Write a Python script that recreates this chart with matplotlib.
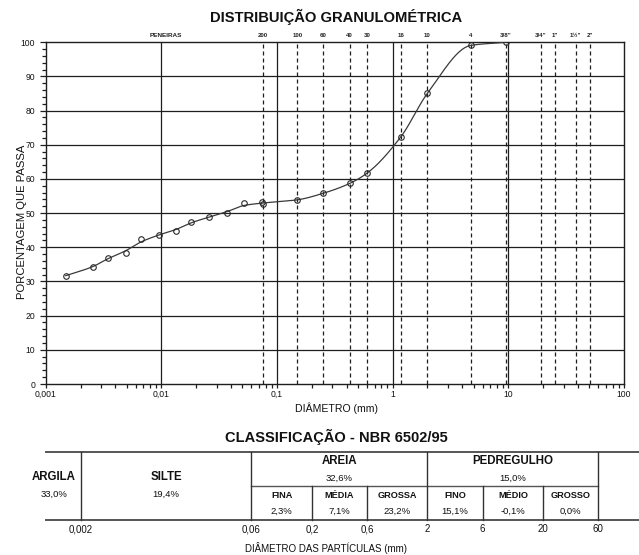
import numpy as np
import matplotlib
matplotlib.use('Agg')
import matplotlib.pyplot as plt
from matplotlib.ticker import FixedLocator, FixedFormatter, NullFormatter, MultipleLocator
from matplotlib.transforms import blended_transform_factory

plt.rcParams['font.family'] = ['Liberation Sans', 'DejaVu Sans']

# ---------------- data ----------------
# sedimentation (hydrometer) points
sed_diam = [0.00149, 0.00254, 0.00345, 0.0049, 0.00672, 0.0095, 0.01337,
            0.01815, 0.0256, 0.0371, 0.0523, 0.0747]
sed_pass = [31.7, 34.3, 37.0, 38.3, 42.3, 43.6, 44.9, 47.5, 48.8, 50.1, 52.9, 53.2]

# sieves
sieve_names = ['200', '100', '60', '40', '30', '16', '10', '4', '3/8"',
               '3/4"', '1"', '1½"', '2"']
sieve_open = [0.075, 0.15, 0.25, 0.425, 0.6, 1.18, 2.0, 4.75, 9.5,
              19.0, 25.4, 38.1, 50.8]
sieve_pass = [52.7, 53.9, 55.8, 58.7, 61.7, 72.4, 85.1, 99.1, 100.0]

x_ticks = [0.001, 0.01, 0.1, 1, 10, 100]
x_ticklabels = ['0,001', '0,01', '0,1', '1', '10', '100']

# classification NBR 6502/95
class_bounds = [0.002, 0.06, 0.2, 0.6, 2, 6, 20, 60]
bound_labels = ['0,002', '0,06', '0,2', '0,6', '2', '6', '20', '60']
main_names = ['ARGILA', 'SILTE', 'AREIA', 'PEDREGULHO']
main_values = ['33,0%', '19,4%', '32,6%', '15,0%']
sub_names = ['FINA', 'MÉDIA', 'GROSSA', 'FINO', 'MÉDIO', 'GROSSO']
sub_values = ['2,3%', '7,1%', '23,2%', '15,1%', '-0,1%', '0,0%']


# ---------------- curve (smoothed PCHIP in log-x) ----------------
def pchip(x, y, xn):
    x = np.asarray(x, float); y = np.asarray(y, float)
    h = np.diff(x); d = np.diff(y) / h
    n = len(x)
    m = np.zeros(n)
    for k in range(1, n - 1):
        if d[k - 1] * d[k] <= 0:
            m[k] = 0.0
        else:
            w1 = 2 * h[k] + h[k - 1]
            w2 = h[k] + 2 * h[k - 1]
            m[k] = (w1 + w2) / (w1 / d[k - 1] + w2 / d[k])
    m[0] = d[0]
    m[-1] = d[-1]
    idx = np.clip(np.searchsorted(x, xn) - 1, 0, n - 2)
    t = (xn - x[idx]) / h[idx]
    h00 = 2 * t**3 - 3 * t**2 + 1
    h10 = t**3 - 2 * t**2 + t
    h01 = -2 * t**3 + 3 * t**2
    h11 = t**3 - t**2
    return (h00 * y[idx] + h10 * h[idx] * m[idx] +
            h01 * y[idx + 1] + h11 * h[idx] * m[idx + 1])


sy = np.array(sed_pass, float)
sm = sy.copy()
for i in range(1, len(sy) - 1):
    sm[i] = 0.25 * sy[i - 1] + 0.5 * sy[i] + 0.25 * sy[i + 1]
cx = list(np.log10(sed_diam)) + list(np.log10(sieve_open[:len(sieve_pass)]))
cy = list(sm) + list(sieve_pass)
order = np.argsort(cx)
cx = np.array(cx)[order]; cy = np.array(cy)[order]
# merge near-duplicate diameters
mx, my = [cx[0]], [cy[0]]
for a, b in zip(cx[1:], cy[1:]):
    if a - mx[-1] < 0.01:
        mx[-1] = (mx[-1] + a) / 2; my[-1] = (my[-1] + b) / 2
    else:
        mx.append(a); my.append(b)
xn = np.linspace(mx[0], mx[-1], 600)
yn = pchip(mx, my, xn)

# ---------------- figure ----------------
W_PX, H_PX = 639, 555
fig = plt.figure(figsize=(W_PX / 100, H_PX / 100), dpi=100)
L = 45.7 / W_PX
W = 578.3 / W_PX
ax_top_px, ax_bot_px = 42.3, 384.0
ax = fig.add_axes([L, 1 - ax_bot_px / H_PX, W, (ax_bot_px - ax_top_px) / H_PX])
ax.set_xscale('log')
ax.set_xlim(0.001, 100)
ax.set_ylim(0, 100)

gcol = '#1e1e1e'
for yv in range(10, 100, 10):
    ax.axhline(yv, color=gcol, lw=0.9, zorder=1)
for xv in x_ticks[1:-1]:
    ax.axvline(xv, color=gcol, lw=0.9, zorder=1)
for xv in sieve_open:
    ax.axvline(xv, color=gcol, lw=0.9, ls=(0, (3.2, 2.4)), zorder=1)

ax.plot(10 ** xn, yn, color='#3a3a3a', lw=0.9, zorder=3)
ax.plot(sed_diam, sed_pass, 'o', ms=4.0, mfc='none', mec='#2a2a2a', mew=0.8, zorder=4)
ax.plot(sieve_open[:len(sieve_pass)], sieve_pass, 'o', ms=4.0, mfc='none',
        mec='#2a2a2a', mew=0.8, zorder=4)

for s in ax.spines.values():
    s.set_color(gcol); s.set_linewidth(1.0)

ax.xaxis.set_major_locator(FixedLocator(x_ticks))
ax.xaxis.set_major_formatter(FixedFormatter(x_ticklabels))
minors = [m * 10.0 ** e for e in range(-3, 2) for m in range(2, 10)]
ax.xaxis.set_minor_locator(FixedLocator(minors))
ax.xaxis.set_minor_formatter(NullFormatter())
ax.yaxis.set_major_locator(MultipleLocator(10))
ax.yaxis.set_minor_locator(MultipleLocator(2))
ax.tick_params(axis='both', which='both', direction='out', colors=gcol,
               labelsize=6.2, labelcolor='#111111', width=0.9)
ax.tick_params(axis='x', which='major', length=3.2, pad=1.0)
ax.tick_params(axis='x', which='minor', length=3.0)
ax.tick_params(axis='y', which='major', length=4.3, pad=3.2)
ax.tick_params(axis='y', which='minor', length=3.1)

# sieve labels on top
trans = blended_transform_factory(ax.transData, ax.transAxes)
for nm, xv in zip(sieve_names, sieve_open):
    ax.annotate(nm, xy=(xv, 1.0), xycoords=trans, xytext=(0, 4.9),
                textcoords='offset points', ha='center', va='center',
                fontsize=4.4, fontweight='bold', color='#222222')
ax.annotate('PENEIRAS', xy=(0.0109, 1.0), xycoords=trans, xytext=(0, 4.9),
            textcoords='offset points', ha='center', va='center',
            fontsize=4.6, fontweight='bold', color='#222222')

fig.text(336 / W_PX, 1 - 17 / H_PX, 'DISTRIBUIÇÃO GRANULOMÉTRICA',
         ha='center', va='center', fontsize=10.6, fontweight='bold', color='#111111')
fig.text(21.7 / W_PX, 1 - 221.5 / H_PX, 'PORCENTAGEM QUE PASSA', rotation=90,
         ha='center', va='center', fontsize=8.1, color='#111111')
fig.text(337 / W_PX, 1 - 408.5 / H_PX, 'DIÂMETRO (mm)', ha='center', va='center',
         fontsize=7.6, color='#111111')

# ---------------- classification table ----------------
tb = fig.add_axes([L, 0, W, 130 / H_PX])
tb.set_xscale('log')
tb.set_xlim(0.001, 100)
tb.set_ylim(555, 425)
tb.axis('off')

y_top, y_mid, y_bot = 451.7, 486.0, 520.0
lc = '#555555'
tb.plot([0.001, 140], [y_top, y_top], color=lc, lw=1.4, clip_on=False)
tb.plot([0.001, 140], [y_bot, y_bot], color=lc, lw=1.4, clip_on=False)
tb.plot([class_bounds[1], class_bounds[-1]], [y_mid, y_mid], color=lc, lw=1.0, clip_on=False)
for i, b in enumerate(class_bounds):
    if i in (0, 1, 4, 7):
        tb.plot([b, b], [y_top, y_bot], color='#333333', lw=1.0, clip_on=False)
    else:
        tb.plot([b, b], [y_mid, y_bot], color='#333333', lw=1.0, clip_on=False)
    tb.text(b, 529, bound_labels[i], ha='center', va='center', fontsize=7.0,
            color='#111111')

tcol = '#111111'
# main classes
main_x = [0.00118,
          np.sqrt(class_bounds[0] * class_bounds[1]),
          np.sqrt(class_bounds[1] * class_bounds[4]),
          np.sqrt(class_bounds[4] * class_bounds[7])]
main_y = [477.3, 477.3, 460.7, 460.7]
for nm, val, xv, yv in zip(main_names, main_values, main_x, main_y):
    tb.text(xv, yv, nm, ha='center', va='center', fontsize=8.3, fontweight='bold', color=tcol)
    tb.text(xv, yv + 17.5, val, ha='center', va='center', fontsize=6.8, color=tcol)

# sub classes
sub_bounds = class_bounds[1:]
for i, (nm, val) in enumerate(zip(sub_names, sub_values)):
    xv = np.sqrt(sub_bounds[i] * sub_bounds[i + 1])
    tb.text(xv, 495.0, nm, ha='center', va='center', fontsize=6.6, fontweight='bold', color=tcol)
    tb.text(xv, 511.7, val, ha='center', va='center', fontsize=6.8, color=tcol)

fig.text(336.5 / W_PX, 1 - 436.7 / H_PX, 'CLASSIFICAÇÃO - NBR 6502/95',
         ha='center', va='center', fontsize=10.5, fontweight='bold', color='#111111')
fig.text(326 / W_PX, 1 - 548 / H_PX, 'DIÂMETRO DAS PARTÍCULAS (mm)',
         ha='center', va='center', fontsize=7.0, color='#111111')

fig.savefig('out.png', dpi=100)
